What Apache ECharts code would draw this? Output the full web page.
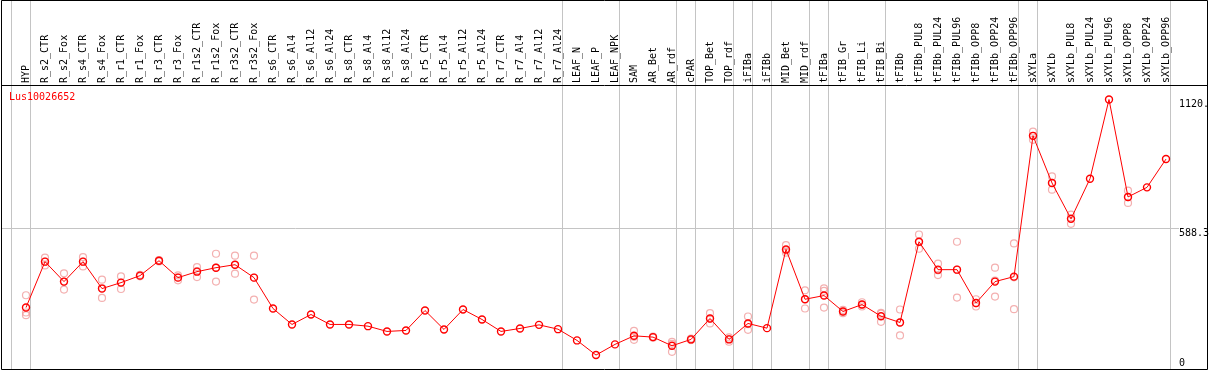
<!DOCTYPE html>
<html>
<head>
<meta charset="utf-8">
<script src="https://cdn.jsdelivr.net/npm/echarts@6/dist/echarts.min.js"></script>
<style>html,body{margin:0;padding:0;background:#fff;}#c{width:1209px;height:370px;}</style>
</head>
<body>
<div id="c"></div>
<script>
const geneName = 'Lus10026652';
const categories = ['HYP','R_s2_CTR','R_s2_Fox','R_s4_CTR','R_s4_Fox','R_r1_CTR','R_r1_Fox','R_r3_CTR','R_r3_Fox','R_r1s2_CTR','R_r1s2_Fox','R_r3s2_CTR','R_r3s2_Fox','R_s6_CTR','R_s6_Al4','R_s6_Al12','R_s6_Al24','R_s8_CTR','R_s8_Al4','R_s8_Al12','R_s8_Al24','R_r5_CTR','R_r5_Al4','R_r5_Al12','R_r5_Al24','R_r7_CTR','R_r7_Al4','R_r7_Al12','R_r7_Al24','LEAF_N','LEAF_P','LEAF_NPK','SAM','AR_Bet','AR_rdf','cPAR','TOP_Bet','TOP_rdf','iFIBa','iFIBb','MID_Bet','MID_rdf','tFIBa','tFIB_Gr','tFIB_Li','tFIB_Bi','tFIBb','tFIBb_PUL8','tFIBb_PUL24','tFIBb_PUL96','tFIBb_OPP8','tFIBb_OPP24','tFIBb_OPP96','sXYLa','sXYLb','sXYLb_PUL8','sXYLb_PUL24','sXYLb_PUL96','sXYLb_OPP8','sXYLb_OPP24','sXYLb_OPP96'];
const means = [258.8,448.8,366.2,448.8,337.3,362.0,390.9,452.8,382.7,407.4,423.9,436.3,382.7,254.7,188.7,229.9,188.7,188.7,181.6,159.8,163.9,246.4,168.0,250.6,209.3,159.8,172.1,187.0,169.2,122.6,61.9,106.1,141.6,136.2,100.3,126.7,213.4,126.7,192.8,173.4,499.5,293.1,308.4,242.3,271.2,222.9,196.9,531.3,415.7,415.7,277.8,366.2,386.8,970.1,774.8,626.2,792.6,1120.6,717.0,756.7,873.9];
const replicates = [
  [309.6,238.2,227.0],[465.2,433.4,448.8],[400.4,333.1,365.1],[467.7,429.3,449.0],[374.4,298.5,339.0],
  [388.0,335.6,362.0],[394.0,388.0,391.0],[453.0,455.0,450.0],[392.2,371.5,384.0],[426.4,385.1,410.0],
  [481.7,366.2,424.0],[473.5,399.2,436.0],[473.5,291.8,382.8],
  [],[],[],[],[],[],[],[],[],[],[],[],[],[],[],[],
  [],[],[],
  [162.2,125.1,137.5],[138.0,134.0,136.0],[116.8,75.5,108.6],[130.0,124.0,126.0],[235.3,192.8,212.0],
  [135.0,128.0,117.0],[221.7,166.4,190.0],[],[517.2,485.9,495.0],[330.2,254.7,294.0],
  [338.5,327.4,258.8],[248.9,235.3,242.0],[280.7,263.0,270.0],[236.5,199.4,233.0],[250.6,143.2,197.0],
  [561.4,502.4,530.0],[440.5,393.4,413.0],[531.3,300.1,415.7],[293.1,263.0,277.0],[423.9,304.2,370.0],
  [524.3,251.8,384.0],[987.8,953.6,969.0],[802.1,747.2,775.0],[644.0,605.6,629.0],[],[],
  [743.0,692.3,716.0],[],[]
];
const groupEnds = [-1,0,28,31,34,35,37,38,39,41,42,45,52,53,60];
const yTicks = [0,588.3,1120.6];
const yTickLabels = ['0','588.3','1120.6'];
const yGridLines = [588.3];
const yMax = 1176.6;

const MONO = '"DejaVu Sans Mono", monospace';
const repData = [];
replicates.forEach((arr, i) => arr.forEach(v => repData.push([i, v])));

const chart = echarts.init(document.getElementById('c'), null, {renderer: 'canvas'});
chart.setOption({
  animation: false,
  backgroundColor: '#fff',
  grid: {left: 16.5, width: 1159, top: 86, height: 285, containLabel: false},
  xAxis: {
    type: 'category', position: 'top', data: categories, boundaryGap: true,
    axisLine: {show: false}, axisTick: {show: false}, splitLine: {show: false},
    axisLabel: {interval: 0, rotate: 90, margin: 3, color: '#000', fontSize: 10, fontFamily: MONO}
  },
  yAxis: {
    type: 'value', min: 0, max: yMax, position: 'right',
    axisLine: {show: false}, axisTick: {show: false}, axisLabel: {show: false}, splitLine: {show: false}
  },
  graphic: [
    {type: 'rect', z: 100, silent: true, shape: {x: 1.5, y: 0.5, width: 1206, height: 369}, style: {fill: 'none', stroke: '#000', lineWidth: 1}},
    {type: 'line', z: 100, silent: true, shape: {x1: 1, y1: 85.5, x2: 1208, y2: 85.5}, style: {stroke: '#000', lineWidth: 1}},
    {type: 'text', z: 100, silent: true, x: 9, y: 92, style: {text: geneName, fill: '#ff0000', font: '10px ' + MONO, verticalAlign: 'top', align: 'left'}}
  ],
  series: [
    {
      type: 'custom', name: 'separators', silent: true, clip: false, z: 0,
      data: groupEnds.map(g => [0, 0, g]),
      encode: {x: 0, y: 1},
      renderItem: function (params, api) {
        const idx = api.value(2);
        const x0 = api.coord([0, 0])[0];
        const bw = api.size([1, 0])[0];
        const x = Math.floor(x0 + idx * bw + 4.5) + 0.5;
        return {type: 'line', shape: {x1: x, y1: 0, x2: x, y2: 370}, style: {stroke: '#c4c4c4', lineWidth: 1}};
      }
    },
    {
      type: 'custom', name: 'ygrid', silent: true, clip: false, z: 0,
      data: yGridLines.map(v => [0, v]),
      encode: {x: 0, y: 1},
      renderItem: function (params, api) {
        const y = Math.floor(api.coord([0, api.value(1)])[1]) + 0.5;
        return {type: 'line', shape: {x1: 1, y1: y, x2: 1179, y2: y}, style: {stroke: '#c4c4c4', lineWidth: 1}};
      }
    },
    {
      type: 'custom', name: 'ylabels', silent: true, clip: false, z: 1,
      data: yTicks.map((v, i) => [0, v, i]),
      encode: {x: 0, y: 1},
      renderItem: function (params, api) {
        const v = api.value(1);
        const i = api.value(2);
        let y = api.coord([0, v])[1];
        let va = 'top';
        if (y > 360) { y = 368; va = 'bottom'; }
        return {type: 'text', x: 1179, y: y, style: {text: yTickLabels[i], fill: '#000', font: '10px ' + MONO, align: 'left', verticalAlign: va}};
      }
    },
    {
      type: 'scatter', name: 'replicates', data: repData, z: 3,
      symbol: 'circle', symbolSize: 7,
      itemStyle: {color: 'rgba(0,0,0,0)', borderColor: '#f09c9c', borderWidth: 1.2}
    },
    {
      type: 'line', name: 'mean', data: means, z: 4,
      symbol: 'circle', symbolSize: 7, showAllSymbol: true,
      lineStyle: {color: '#ff0000', width: 1},
      itemStyle: {color: 'rgba(0,0,0,0)', borderColor: '#ff0000', borderWidth: 1.4}
    }
  ]
});
</script>
</body>
</html>
